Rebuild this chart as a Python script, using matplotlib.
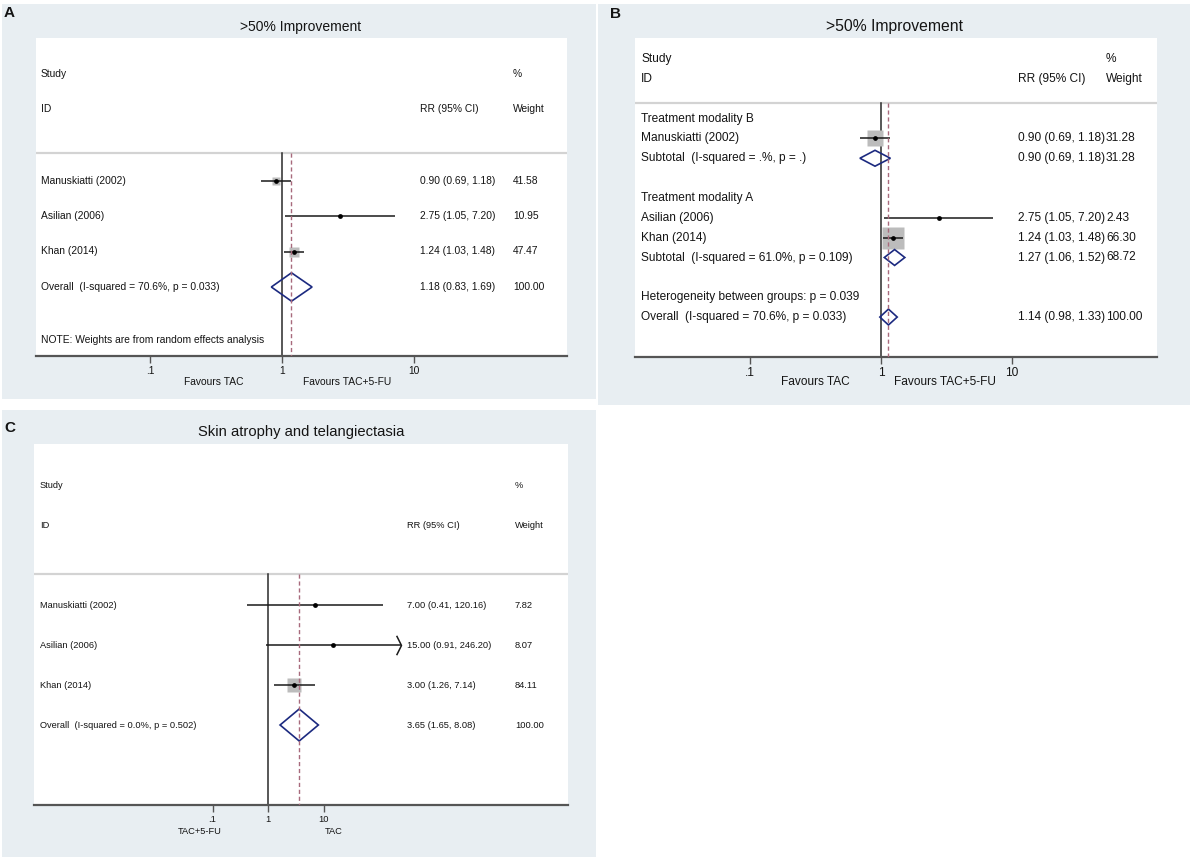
import matplotlib
matplotlib.use('Agg')
import matplotlib.pyplot as plt
import numpy as np
from matplotlib.patches import Rectangle, Polygon
from matplotlib.path import Path
from matplotlib.ticker import NullLocator

plt.rcParams['font.family'] = ['Liberation Sans', 'DejaVu Sans']

W, H = 1192, 860

# ---------------- data ----------------
ticks = [0.1, 1, 10]
tick_labels = [".1", "1", "10"]

# Panel A
a_title = ">50% Improvement"
a_studies = ["Manuskiatti (2002)", "Asilian (2006)", "Khan (2014)"]
a_rr = [0.90, 2.75, 1.24]
a_lo = [0.69, 1.05, 1.03]
a_hi = [1.18, 7.20, 1.48]
a_weight = [41.58, 10.95, 47.47]
a_overall = [1.18, 0.83, 1.69]
a_overall_label = "Overall  (I-squared = 70.6%, p = 0.033)"
a_note = "NOTE: Weights are from random effects analysis"
a_favours = ["Favours TAC", "Favours TAC+5-FU"]

# Panel B
b_title = ">50% Improvement"
b_groups = ["Treatment modality B", "Treatment modality A"]
b_studies = [["Manuskiatti (2002)"], ["Asilian (2006)", "Khan (2014)"]]
b_rr = [[0.90], [2.75, 1.24]]
b_lo = [[0.69], [1.05, 1.03]]
b_hi = [[1.18], [7.20, 1.48]]
b_weight = [[31.28], [2.43, 66.30]]
b_sub = [[0.90, 0.69, 1.18], [1.27, 1.06, 1.52]]
b_sub_weight = [31.28, 68.72]
b_sub_labels = ["Subtotal  (I-squared = .%, p = .)",
                "Subtotal  (I-squared = 61.0%, p = 0.109)"]
b_het_label = "Heterogeneity between groups: p = 0.039"
b_overall = [1.14, 0.98, 1.33]
b_overall_label = "Overall  (I-squared = 70.6%, p = 0.033)"
b_favours = ["Favours TAC", "Favours TAC+5-FU"]

# Panel C
c_title = "Skin atrophy and telangiectasia"
c_studies = ["Manuskiatti (2002)", "Asilian (2006)", "Khan (2014)"]
c_rr = [7.00, 15.00, 3.00]
c_lo = [0.41, 0.91, 1.26]
c_hi = [120.16, 246.20, 7.14]
c_weight = [7.82, 8.07, 84.11]
c_overall = [3.65, 1.65, 8.08]
c_overall_label = "Overall  (I-squared = 0.0%, p = 0.502)"
c_favours = ["TAC+5-FU", "TAC"]
c_arrow_max = 200.0   # CIs above this are drawn with an arrow

# ---------------- styles ----------------
BG = '#e8eef2'
TXT = '#141414'
NAVY = '#1c2a80'
BOX = '#bcbcbc'
DASH = '#a86a7c'
SEP = '#d3d3d3'
AXC = '#555555'

fig = plt.figure(figsize=(W / 100, H / 100), dpi=100)
fig.patch.set_facecolor('white')


def bg_rect(x0, y0, x1, y1):
    fig.add_artist(Rectangle((x0 / W, 1 - y1 / H), (x1 - x0) / W, (y1 - y0) / H,
                             transform=fig.transFigure, facecolor=BG,
                             edgecolor='none', zorder=0))


def ftext(x, y, s, **kw):
    fig.text(x / W, 1 - y / H, s, color=TXT, **kw)


class Panel:
    def __init__(self, L, T, R, B, x_one, decade, y0, step, fs):
        self.L, self.T, self.R, self.B = L, T, R, B
        self.fs = fs
        self.ax = ax = fig.add_axes([L / W, 1 - B / H, (R - L) / W, (B - T) / H])
        ax.set_facecolor('white')
        ax.set_xscale('log')
        ax.set_xlim(10 ** ((L - x_one) / decade), 10 ** ((R - x_one) / decade))
        ax.set_ylim((B - y0) / step, (T - y0) / step)
        self.ybottom = (B - y0) / step
        for s in ['top', 'left', 'right']:
            ax.spines[s].set_visible(False)
        ax.spines['bottom'].set_color(AXC)
        ax.spines['bottom'].set_linewidth(1.6)
        ax.set_yticks([])
        ax.set_xticks(ticks)
        ax.set_xticklabels(tick_labels)
        ax.xaxis.set_minor_locator(NullLocator())
        ax.tick_params(axis='x', length=5, width=1, color=AXC, pad=2,
                       labelsize=fs, labelcolor=TXT)

    def fx(self, x):
        return (x - self.L) / (self.R - self.L)

    def text(self, x, row, s, **kw):
        self.ax.text(self.fx(x), row, s, transform=self.ax.get_yaxis_transform(),
                     ha='left', va='center', fontsize=self.fs, color=TXT, **kw)

    def below(self, x, y, s):
        fy = (self.B - y) / (self.B - self.T)
        self.ax.text(self.fx(x), fy, s, transform=self.ax.transAxes, ha='center',
                     va='center', fontsize=self.fs, color=TXT, clip_on=False)

    def study(self, row, rr, lo, hi, w, k, arrow_max=None):
        ax = self.ax
        ax.plot(rr, row, marker='s', ms=k * np.sqrt(w) * 0.72, color=BOX,
                mec='none', ls='none', zorder=2)
        if arrow_max is not None and hi > arrow_max:
            chev = Path([(-0.5, 1), (0, 0), (-0.5, -1)],
                        [Path.MOVETO, Path.LINETO, Path.LINETO])
            ax.plot(hi, row, marker=chev, ms=14, mfc='none', mec='#1a1a1a',
                    mew=1.1, ls='none', zorder=3)
        ax.plot([lo, hi], [row, row], color='#1a1a1a', lw=1.1, zorder=3,
                solid_capstyle='butt')
        ax.plot(rr, row, marker='o', ms=2.4, color='black', ls='none', zorder=4)

    def diamond(self, row, rr, lo, hi, h=0.4):
        self.ax.add_patch(Polygon([(lo, row), (rr, row - h), (hi, row), (rr, row + h)],
                                  closed=True, fill=False, edgecolor=NAVY, lw=1.2,
                                  zorder=4))

    def lines(self, sep, overall):
        ax = self.ax
        ax.axhline(sep, color=SEP, lw=1.6, zorder=1)
        ax.plot([1, 1], [sep, self.ybottom], color='#2a2a2a', lw=1.1, zorder=2)
        ax.plot([overall, overall], [sep, self.ybottom], color=DASH, lw=1.0,
                dashes=(3, 2), zorder=5)


def ci_text(v):
    return "%.2f (%.2f, %.2f)" % (v[0], v[1], v[2])


# ---------------- Panel A ----------------
bg_rect(2, 4, 596, 399)
ftext(4, 13, 'A', fontsize=11, fontweight='bold', ha='left', va='center')
ftext(301, 27, a_title, fontsize=10, ha='center', va='center')
pa = Panel(36, 38, 567, 356, 282, 132, 74, 35.5, 7.4)
pa.lines(2.23, a_overall[0])
pa.text(41, 0, "Study"); pa.text(513, 0, "%")
pa.text(41, 1, "ID"); pa.text(420, 1, "RR (95% CI)"); pa.text(513, 1, "Weight")
for i, name in enumerate(a_studies):
    r = 3 + i
    pa.study(r, a_rr[i], a_lo[i], a_hi[i], a_weight[i], k=1.35)
    pa.text(41, r, name)
    pa.text(420, r, ci_text([a_rr[i], a_lo[i], a_hi[i]]))
    pa.text(513, r, "%.2f" % a_weight[i])
ro = 3 + len(a_studies)
pa.diamond(ro, *a_overall)
pa.text(41, ro, a_overall_label)
pa.text(420, ro, ci_text(a_overall))
pa.text(513, ro, "%.2f" % sum(a_weight))
pa.text(41, ro + 1.5, a_note)
pa.below(214, 382, a_favours[0])
pa.below(347, 382, a_favours[1])

# ---------------- Panel B ----------------
bg_rect(598, 4, 1190, 405)
ftext(610, 14, 'B', fontsize=11, fontweight='bold', ha='left', va='center')
ftext(895, 27, b_title, fontsize=11.3, ha='center', va='center')
pb = Panel(635, 38, 1157, 357, 881, 131, 59, 19.85, 8.6)
pb.lines(2.22, b_overall[0])
pb.text(641, 0, "Study"); pb.text(1106, 0, "%")
pb.text(641, 1, "ID"); pb.text(1018, 1, "RR (95% CI)"); pb.text(1106, 1, "Weight")
r = 3
for g, gname in enumerate(b_groups):
    pb.text(641, r, gname)
    r += 1
    for j, name in enumerate(b_studies[g]):
        pb.study(r, b_rr[g][j], b_lo[g][j], b_hi[g][j], b_weight[g][j], k=2.7)
        pb.text(641, r, name)
        pb.text(1018, r, ci_text([b_rr[g][j], b_lo[g][j], b_hi[g][j]]))
        pb.text(1106, r, "%.2f" % b_weight[g][j])
        r += 1
    pb.diamond(r, *b_sub[g])
    pb.text(641, r, b_sub_labels[g])
    pb.text(1018, r, ci_text(b_sub[g]))
    pb.text(1106, r, "%.2f" % b_sub_weight[g])
    r += 2
pb.text(641, r, b_het_label)
r += 1
pb.diamond(r, *b_overall)
pb.text(641, r, b_overall_label)
pb.text(1018, r, ci_text(b_overall))
pb.text(1106, r, "%.2f" % sum(b_sub_weight))
pb.below(815, 382, b_favours[0])
pb.below(945, 382, b_favours[1])

# ---------------- Panel C ----------------
bg_rect(2, 410, 596, 857)
ftext(4, 428, 'C', fontsize=11, fontweight='bold', ha='left', va='center')
ftext(301, 432, c_title, fontsize=10.6, ha='center', va='center')
pc = Panel(34, 444, 568, 805, 268, 55.5, 485, 40, 6.7)
pc.lines(2.225, c_overall[0])
pc.text(40, 0, "Study"); pc.text(515, 0, "%")
pc.text(40, 1, "ID"); pc.text(407, 1, "RR (95% CI)"); pc.text(515, 1, "Weight")
for i, name in enumerate(c_studies):
    r = 3 + i
    pc.study(r, c_rr[i], c_lo[i], c_hi[i], c_weight[i], k=1.55, arrow_max=c_arrow_max)
    pc.text(40, r, name)
    pc.text(407, r, ci_text([c_rr[i], c_lo[i], c_hi[i]]))
    pc.text(515, r, "%.2f" % c_weight[i])
ro = 3 + len(c_studies)
pc.diamond(ro, *c_overall)
pc.text(40, ro, c_overall_label)
pc.text(407, ro, ci_text(c_overall))
pc.text(515, ro, "%.2f" % sum(c_weight))
pc.below(200, 832, c_favours[0])
pc.below(334, 832, c_favours[1])

fig.savefig('out.png', dpi=100, facecolor='white')
